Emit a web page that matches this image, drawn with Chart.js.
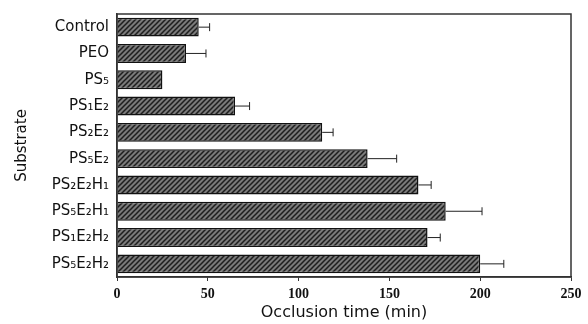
<!DOCTYPE html>
<html>
<head>
<meta charset="utf-8">
<script src="https://cdn.jsdelivr.net/npm/chart.js@4"></script>
<style>
  html, body { margin: 0; padding: 0; background: #fff; }
  #wrap { width: 588px; height: 324px; }
</style>
</head>
<body>
<div id="wrap"><canvas id="occlusionChart" width="588" height="324"></canvas></div>
<script>
// Occlusion time per substrate, with error bars (upper end only)
const substrates = ['Control', 'PEO', 'PS₅', 'PS₁E₂', 'PS₂E₂', 'PS₅E₂', 'PS₂E₂H₁', 'PS₅E₂H₁', 'PS₁E₂H₂', 'PS₅E₂H₂'];
const occlusionTime = [45, 38, 25, 65, 113, 138, 166, 181, 171, 200];
const errorTop = [51, 49, null, 73, 119, 154, 173, 201, 178, 213];
const xTicks = [0, 50, 100, 150, 200, 250];

function hatchPattern() {
    const c = document.createElement('canvas');
    c.width = 5; c.height = 5;
    const g = c.getContext('2d');
    g.fillStyle = '#7a7a7a';
    g.fillRect(0, 0, 5, 5);
    g.strokeStyle = '#1e1e1e';
    g.lineWidth = 1.5;
    g.beginPath();
    g.moveTo(-1, 6); g.lineTo(6, -1);
    g.moveTo(-3.5, 3.5); g.lineTo(3.5, -3.5);
    g.moveTo(1.5, 8.5); g.lineTo(8.5, 1.5);
    g.stroke();
    return g.createPattern(c, 'repeat');
}

const frameAndErrors = {
    id: 'frameAndErrors',
    afterDatasetsDraw(chart) {
        const ctx = chart.ctx;
        const area = chart.chartArea;
        const x = chart.scales.x;
        const y = chart.scales.y;
        ctx.save();
        // error bars
        ctx.strokeStyle = '#222';
        ctx.lineWidth = 1;
        errorTop.forEach((v, i) => {
            if (v == null) return;
            const x0 = x.getPixelForValue(occlusionTime[i]);
            const x1 = x.getPixelForValue(v);
            const yc = y.getPixelForValue(i);
            ctx.beginPath();
            ctx.moveTo(x0, yc); ctx.lineTo(x1, yc);
            ctx.moveTo(x1, yc - 4); ctx.lineTo(x1, yc + 4);
            ctx.stroke();
        });
        // box frame
        ctx.strokeStyle = '#333';
        ctx.lineWidth = 1.5;
        ctx.strokeRect(area.left, area.top, area.right - area.left, area.bottom - area.top);
        ctx.restore();
    }
};

const ctx = document.getElementById('occlusionChart').getContext('2d');
new Chart(ctx, {
    type: 'bar',
    data: {
        labels: substrates,
        datasets: [{
            label: 'Occlusion time',
            data: occlusionTime,
            backgroundColor: hatchPattern(),
            borderColor: '#111',
            borderWidth: 1.5,
            barPercentage: 0.72,
            categoryPercentage: 1.0
        }]
    },
    options: {
        indexAxis: 'y',
        responsive: false,
        animation: false,
        layout: { padding: { left: 13, right: 17, top: 14, bottom: 0 } },
        plugins: {
            legend: { display: false },
            tooltip: { enabled: false }
        },
        scales: {
            x: {
                min: 0,
                max: 250,
                afterBuildTicks: s => { s.ticks = xTicks.map(v => ({ value: v })); },
                afterFit: s => { s.height = 47; },
                grid: { drawOnChartArea: false, tickLength: 4, color: '#333' },
                border: { color: '#333', width: 1.5 },
                ticks: {
                    color: '#111',
                    padding: 5,
                    font: { family: 'Liberation Serif', size: 14, weight: 'bold' }
                },
                title: {
                    display: true,
                    text: 'Occlusion time (min)',
                    color: '#111',
                    padding: { top: 0, bottom: 2 },
                    font: { family: 'DejaVu Sans', size: 16 }
                }
            },
            y: {
                afterFit: s => { s.width = 104; },
                grid: { display: false },
                border: { color: '#333', width: 1.5 },
                ticks: {
                    color: '#111',
                    padding: 0,
                    font: { family: 'DejaVu Sans', size: 15 }
                },
                title: {
                    display: true,
                    text: 'Substrate',
                    color: '#111',
                    padding: 0,
                    font: { family: 'DejaVu Sans', size: 15 }
                }
            }
        }
    },
    plugins: [frameAndErrors]
});
</script>
</body>
</html>
